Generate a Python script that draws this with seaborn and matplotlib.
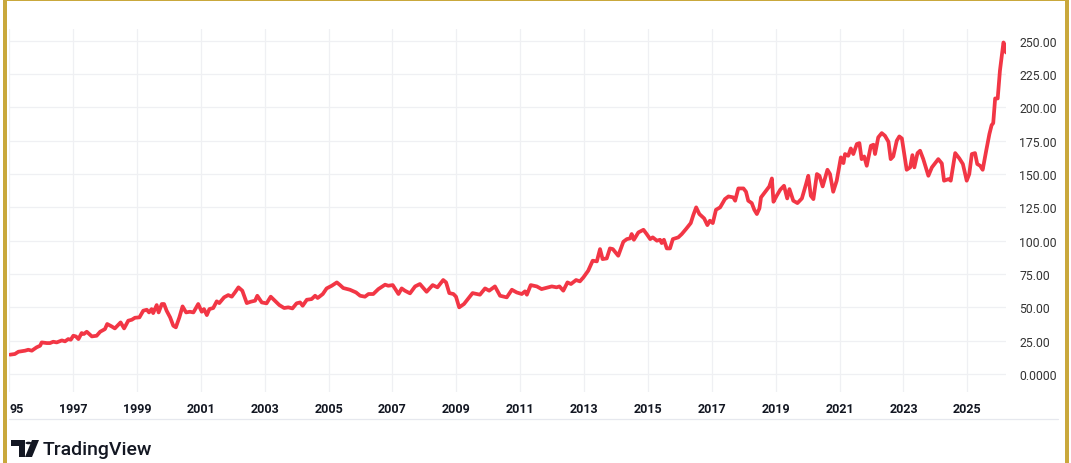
import matplotlib
matplotlib.use("Agg")
import matplotlib.pyplot as plt
import seaborn as sns
import pandas as pd
from matplotlib.patches import Rectangle, Polygon, Circle
from matplotlib.lines import Line2D

# ---- data (decimal year, price) ----
years = [
    1995.03, 1995.18, 1995.29, 1995.50, 1995.60, 1995.71, 1995.86, 1995.97, 1996.02, 1996.18,
    1996.28, 1996.38, 1996.49, 1996.65, 1996.75, 1996.85, 1996.93, 1997.01, 1997.09, 1997.17,
    1997.27, 1997.34, 1997.43, 1997.51, 1997.59, 1997.74, 1997.85, 1998.00, 1998.07, 1998.21,
    1998.31, 1998.49, 1998.60, 1998.73, 1998.84, 1998.94, 1999.08, 1999.20, 1999.31, 1999.38,
    1999.46, 1999.51, 1999.62, 1999.68, 1999.78, 1999.85, 1999.93, 2000.04, 2000.14, 2000.22,
    2000.33, 2000.43, 2000.54, 2000.66, 2000.77, 2000.92, 2001.03, 2001.10, 2001.19, 2001.27,
    2001.39, 2001.50, 2001.58, 2001.73, 2001.86, 2001.97, 2002.07, 2002.18, 2002.30, 2002.44,
    2002.56, 2002.70, 2002.77, 2002.91, 2003.06, 2003.19, 2003.32, 2003.46, 2003.61, 2003.74,
    2003.87, 2004.00, 2004.11, 2004.19, 2004.32, 2004.47, 2004.58, 2004.66, 2004.82, 2004.94,
    2005.10, 2005.26, 2005.36, 2005.46, 2005.67, 2005.86, 2005.99, 2006.14, 2006.25, 2006.40,
    2006.56, 2006.77, 2006.87, 2007.01, 2007.19, 2007.29, 2007.39, 2007.55, 2007.71, 2007.86,
    2008.07, 2008.26, 2008.41, 2008.59, 2008.68, 2008.78, 2008.91, 2008.99, 2009.09, 2009.24,
    2009.38, 2009.51, 2009.74, 2009.90, 2010.03, 2010.21, 2010.37, 2010.58, 2010.74, 2010.89,
    2011.05, 2011.15, 2011.21, 2011.33, 2011.52, 2011.67, 2011.99, 2012.14, 2012.23, 2012.35,
    2012.48, 2012.59, 2012.75, 2012.87, 2012.98, 2013.13, 2013.27, 2013.40, 2013.50, 2013.58,
    2013.71, 2013.81, 2013.90, 2014.07, 2014.23, 2014.34, 2014.44, 2014.49, 2014.56, 2014.70,
    2014.86, 2014.96, 2015.07, 2015.15, 2015.28, 2015.38, 2015.43, 2015.50, 2015.59, 2015.69,
    2015.78, 2015.95, 2016.06, 2016.19, 2016.34, 2016.42, 2016.51, 2016.61, 2016.76, 2016.86,
    2016.94, 2017.03, 2017.13, 2017.26, 2017.41, 2017.52, 2017.67, 2017.73, 2017.83, 2017.99,
    2018.07, 2018.14, 2018.25, 2018.33, 2018.41, 2018.49, 2018.54, 2018.72, 2018.80, 2018.88,
    2018.93, 2019.03, 2019.14, 2019.26, 2019.36, 2019.43, 2019.55, 2019.68, 2019.82, 2019.95,
    2020.02, 2020.10, 2020.18, 2020.29, 2020.37, 2020.47, 2020.62, 2020.70, 2020.80, 2020.91,
    2021.04, 2021.12, 2021.17, 2021.27, 2021.35, 2021.43, 2021.54, 2021.62, 2021.69, 2021.77,
    2021.85, 2021.98, 2022.06, 2022.11, 2022.21, 2022.32, 2022.42, 2022.53, 2022.60, 2022.68,
    2022.79, 2022.87, 2022.95, 2023.05, 2023.10, 2023.21, 2023.28, 2023.34, 2023.44, 2023.52,
    2023.62, 2023.78, 2023.89, 2024.09, 2024.20, 2024.27, 2024.41, 2024.48, 2024.62, 2024.75,
    2024.86, 2024.98, 2025.06, 2025.14, 2025.24, 2025.31, 2025.40, 2025.48, 2025.59, 2025.69,
    2025.76, 2025.81, 2025.87, 2025.95, 2026.02, 2026.13, 2026.18, 2026.21,
]
prices = [
    14.5, 15.0, 16.7, 17.5, 18.2, 17.5, 20.0, 21.2, 23.7, 23.2,
    23.2, 24.2, 23.7, 25.2, 24.5, 26.2, 25.7, 28.7, 28.2, 26.2,
    30.7, 30.0, 31.7, 30.0, 28.2, 28.7, 31.7, 33.7, 37.5, 35.7,
    34.2, 38.7, 34.2, 40.0, 40.7, 42.2, 42.5, 47.5, 48.2, 46.2,
    48.7, 45.7, 51.7, 46.2, 52.5, 52.5, 47.5, 42.5, 36.2, 35.0,
    42.5, 50.7, 46.2, 46.7, 46.2, 52.5, 46.7, 48.7, 44.2, 48.7,
    49.5, 54.5, 53.2, 57.5, 59.2, 58.0, 61.2, 65.0, 62.5, 53.2,
    54.2, 55.0, 58.7, 53.7, 53.0, 58.0, 55.0, 51.7, 49.5, 50.0,
    49.2, 53.0, 53.7, 51.2, 55.7, 56.2, 58.7, 57.0, 60.0, 64.2,
    66.2, 68.7, 66.7, 64.5, 63.2, 61.2, 58.7, 58.0, 60.0, 60.0,
    63.7, 67.0, 66.2, 66.7, 60.0, 64.2, 62.5, 60.5, 65.7, 67.5,
    61.7, 66.7, 65.0, 70.5, 68.7, 60.7, 60.0, 58.0, 50.0, 52.5,
    56.7, 60.7, 59.5, 64.2, 62.5, 65.7, 58.7, 57.5, 63.2, 61.2,
    60.0, 62.0, 59.5, 66.7, 65.7, 63.7, 65.7, 65.0, 65.7, 62.5,
    68.7, 67.5, 70.5, 69.5, 72.5, 77.5, 85.0, 84.5, 93.7, 86.2,
    86.7, 94.2, 93.7, 88.7, 99.2, 101.2, 101.7, 105.0, 100.7, 106.2,
    108.2, 105.0, 101.2, 102.5, 100.0, 100.7, 98.2, 100.7, 94.2, 94.2,
    101.2, 102.5, 105.0, 108.7, 113.2, 119.2, 125.0, 120.0, 116.7, 111.7,
    115.0, 113.2, 123.2, 125.0, 131.2, 133.2, 132.5, 130.0, 139.2, 139.2,
    136.7, 130.0, 128.2, 123.2, 120.0, 124.2, 132.5, 138.2, 140.7, 146.7,
    129.2, 133.7, 138.2, 141.2, 131.7, 138.7, 130.0, 128.2, 131.7, 142.5,
    148.7, 133.7, 131.2, 150.0, 148.7, 140.7, 153.2, 150.0, 136.7, 145.0,
    162.5, 158.2, 165.0, 163.7, 169.2, 165.0, 172.5, 173.2, 161.2, 163.2,
    156.2, 171.2, 172.0, 165.0, 177.5, 180.7, 178.7, 174.2, 161.2, 163.2,
    175.0, 178.2, 176.7, 161.2, 153.2, 155.0, 164.2, 155.0, 165.7, 167.5,
    161.2, 148.7, 155.0, 161.2, 158.0, 145.0, 146.2, 145.0, 165.7, 161.7,
    157.5, 145.0, 150.0, 165.0, 165.7, 157.5, 156.2, 153.2, 167.5, 180.0,
    186.7, 188.2, 206.7, 206.7, 227.5, 248.7, 246.2, 241.2,
]

xtick_years = [1995, 1997, 1999, 2001, 2003, 2005, 2007, 2009, 2011, 2013, 2015, 2017, 2019, 2021, 2023, 2025]
xtick_labels = ["95", "1997", "1999", "2001", "2003", "2005", "2007", "2009", "2011", "2013",
                "2015", "2017", "2019", "2021", "2023", "2025"]
ytick_values = [0, 25, 50, 75, 100, 125, 150, 175, 200, 225, 250]
ytick_labels = ["0.0000", "25.00", "50.00", "75.00", "100.00", "125.00", "150.00", "175.00",
                "200.00", "225.00", "250.00"]

df = pd.DataFrame({"year": years, "price": prices})

W, H = 1071, 464
sns.set_theme(style="white")
plt.rcParams["font.family"] = ["Roboto", "DejaVu Sans"]

fig = plt.figure(figsize=(W / 100, H / 100), dpi=100)
fig.patch.set_facecolor("white")

def fx(x):
    return x / W

def fy(y):
    return 1 - y / H

ax_left, ax_right, ax_top, ax_bot = 9, 1006, 30, 393
ax = fig.add_axes([fx(ax_left), fy(ax_bot), fx(ax_right - ax_left), (ax_bot - ax_top) / H])

sns.lineplot(data=df, x="year", y="price", ax=ax, color="#F23645", linewidth=2.7,
             solid_joinstyle="round", solid_capstyle="round", zorder=5)

ax.set_xlim(1994.996, 2026.21)
ax.set_ylim(-13.5, 258.8)
ax.set_xlabel("")
ax.set_ylabel("")
for s in ax.spines.values():
    s.set_visible(False)

ax.set_xticks(xtick_years)
ax.set_xticklabels(xtick_labels, fontweight="bold", fontsize=9, color="#131722")
xl = ax.get_xticklabels()
xl[0].set_horizontalalignment("left")
ax.set_yticks(ytick_values)
ax.set_yticklabels(ytick_labels, fontsize=8.8, color="#333333")
ax.yaxis.tick_right()
ax.tick_params(axis="y", length=0, pad=9.5)
ax.tick_params(axis="x", length=0, pad=7)
for lab in ax.get_yticklabels():
    lab.set_horizontalalignment("left")

ax.grid(True, color="#eff0f3", linewidth=0.9)
ax.set_axisbelow(True)

# separator line below x labels
fig.add_artist(Line2D([fx(9), fx(1058)], [fy(420), fy(420)], transform=fig.transFigure,
                      color="#e6e8ee", linewidth=0.9))

# TradingView logo
logo_col = "#131722"
T_bar = Polygon([(fx(11), fy(441)), (fx(24.5), fy(441)), (fx(24.5), fy(458)), (fx(18.5), fy(458)),
                 (fx(18.5), fy(447)), (fx(11), fy(447))], closed=True, transform=fig.transFigure,
                facecolor=logo_col, edgecolor="none", zorder=21)
fig.add_artist(T_bar)
fig.add_artist(Circle((fx(28.5), fy(444)), 3.0 / W, transform=fig.transFigure,
                      facecolor=logo_col, edgecolor="none", zorder=21))
slash = Polygon([(fx(32), fy(441)), (fx(39), fy(441)), (fx(32), fy(458)), (fx(25), fy(458))],
                closed=True, transform=fig.transFigure, facecolor=logo_col, edgecolor="none", zorder=21)
fig.add_artist(slash)
fig.text(fx(43), fy(450), "TradingView", fontsize=14, fontweight="medium", color=logo_col,
         ha="left", va="center", family=["Roboto", "DejaVu Sans"])

# gold frame
gold = "#C9A83C"
fig.add_artist(Rectangle((fx(3), 0), fx(4.5), 1, transform=fig.transFigure,
                         facecolor=gold, edgecolor="none", zorder=30))
fig.add_artist(Rectangle((fx(1064.5), 0), fx(4), 1, transform=fig.transFigure,
                         facecolor=gold, edgecolor="none", zorder=30))
fig.add_artist(Rectangle((fx(3), fy(2.3)), fx(1066) - fx(3), 2.3 / H, transform=fig.transFigure,
                         facecolor=gold, edgecolor="none", zorder=30))

fig.savefig("out.png", dpi=100, facecolor="white")
